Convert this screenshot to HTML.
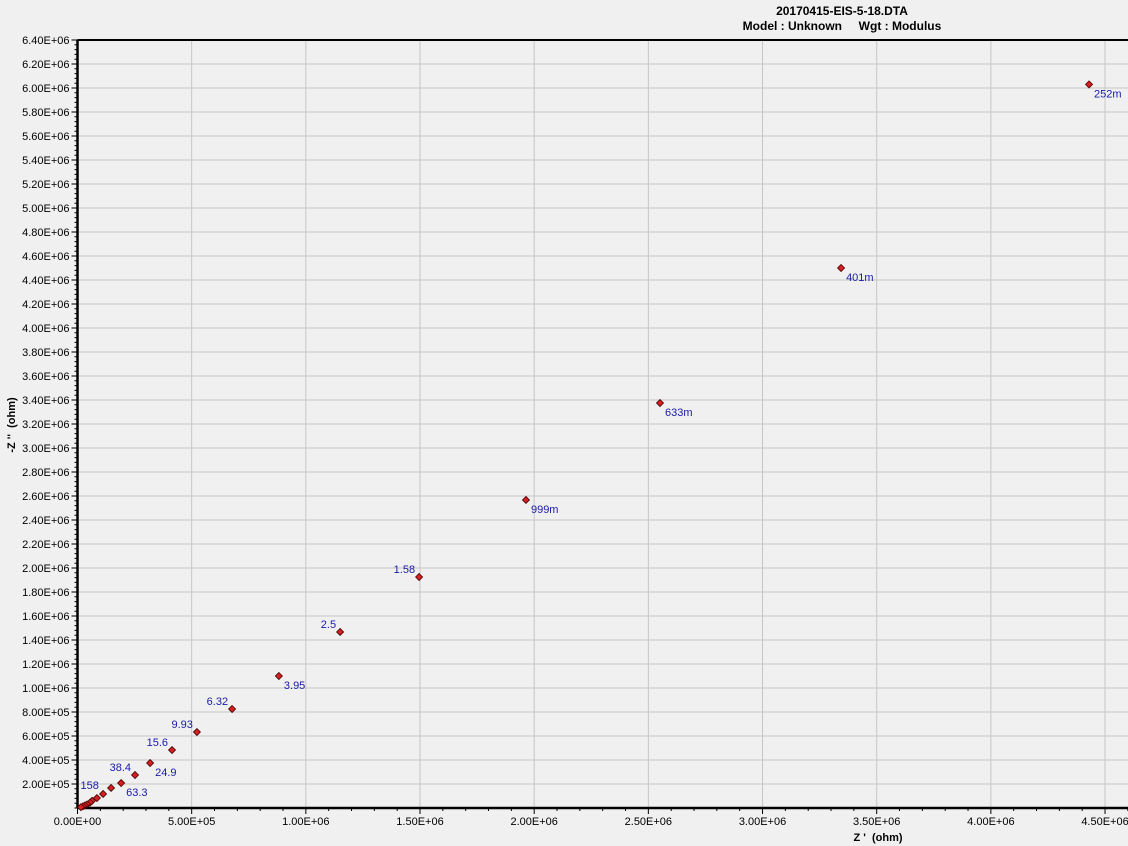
<!DOCTYPE html>
<html><head><meta charset="utf-8"><style>
html,body{margin:0;padding:0;background:#f0f0f0;}
svg{display:block;font-family:"Liberation Sans",Arial,sans-serif;}
</style></head><body>
<svg id="chart" width="1128" height="846" viewBox="0 0 1128 846">
<rect width="1128" height="846" fill="#f0f0f0"/>
<text x="842" y="15" text-anchor="middle" font-size="12" font-weight="bold">20170415-EIS-5-18.DTA</text>
<text x="842" y="30" text-anchor="middle" font-size="12" font-weight="bold">Model : Unknown &#160;&#160;&#160; Wgt : Modulus</text>
<text x="878" y="841" text-anchor="middle" font-size="11" font-weight="bold">Z ' &#160;(ohm)</text>
<text transform="translate(15,425) rotate(-90)" text-anchor="middle" font-size="11" font-weight="bold">-Z '' &#160;(ohm)</text>
<g id="grid"></g><g id="axes"></g><g id="marks"></g>
</svg>
<script>
const xTicks=[0,5e5,1e6,1.5e6,2e6,2.5e6,3e6,3.5e6,4e6,4.5e6];
const yTicks=[2e5,4e5,6e5,8e5,1e6,1.2e6,1.4e6,1.6e6,1.8e6,2e6,2.2e6,2.4e6,2.6e6,2.8e6,3e6,3.2e6,3.4e6,3.6e6,3.8e6,4e6,4.2e6,4.4e6,4.6e6,4.8e6,5e6,5.2e6,5.4e6,5.6e6,5.8e6,6e6,6.2e6,6.4e6];
const zReal=[4.43e6,3.344e6,2.551e6,1.964e6,1.496e6,1.15e6,8.82e5,6.77e5,5.23e5,4.14e5,3.18e5,2.52e5,1.91e5,1.47e5,1.12e5,8.5e4,6.4e4,5.5e4,4.2e4,3.3e4,2.4e4,1.5e4];
const zImag=[6.03e6,4.5e6,3.375e6,2.567e6,1.925e6,1.467e6,1.1e6,8.25e5,6.33e5,4.83e5,3.75e5,2.75e5,2.08e5,1.67e5,1.17e5,8.3e4,6e4,4.5e4,3e4,2.2e4,1.4e4,7e3];
const freqLabels=["252m","401m","633m","999m","1.58","2.5","3.95","6.32","9.93","15.6","24.9","38.4","63.3","","","158","","","","","",""];
const labelSide=["r","r","r","r","l","l","r","l","l","l","r","l","r","","","u","","","","","",""];
const L=77.5,T=40,B=808,R=1128;
const X=v=>L+v*114.17/5e5;
const Y=v=>B-v*768/6.4e6;
const NS='http://www.w3.org/2000/svg';
function mk(tag,attrs,parent){const e=document.createElementNS(NS,tag);for(const k in attrs)e.setAttribute(k,attrs[k]);parent.appendChild(e);return e;}
const fmt=v=>{if(v===0)return"0.00E+00";const ex=Math.floor(Math.log10(v)+1e-9);return (v/Math.pow(10,ex)).toFixed(2)+"E+"+String(ex).padStart(2,"0");};
const grid=document.getElementById('grid'),axes=document.getElementById('axes'),marks=document.getElementById('marks');
xTicks.forEach(t=>{const x=X(t);
 if(t>0){const g=mk('line',{x1:x,x2:x,y1:T,y2:B,stroke:'#c6c6c6','stroke-width':1},grid);
 
 }
 const tk=mk('line',{x1:x,x2:x,y1:B,y2:B+6,stroke:'#000'},axes);
 
 
 const lb=mk('text',{x:x,y:B+17,'text-anchor':'middle','font-size':11,fill:'#000'},axes);lb.textContent=fmt(t);
 
 
 for(let k=1;k<5;k++){const mx=X(t+k*1e5);if(mx<R){const m=mk('line',{x1:mx,x2:mx,y1:B,y2:B+3,stroke:'#000'},axes);
 
 }}
});
yTicks.forEach(t=>{const y=Y(t);
 if(t<6.4e6){const g=mk('line',{x1:L,x2:R,y1:y,y2:y,stroke:'#c6c6c6','stroke-width':1},grid);
 
 }
 const tk=mk('line',{x1:L-6,x2:L,y1:y,y2:y,stroke:'#000'},axes);
 
 
 const lb=mk('text',{x:L-8,y:y+4,'text-anchor':'end','font-size':11,fill:'#000'},axes);lb.textContent=fmt(t);
 
 
});
for(let v=0;v<6.4e6;v+=4e4){const m=mk('line',{x1:L-3,x2:L,y1:Y(v),y2:Y(v),stroke:'#000'},axes);
 
 }
const xa=mk('line',{x1:L,x2:R,y1:B,y2:B,stroke:'#000','stroke-width':2.5},axes);


const ya=mk('line',{x1:L,x2:L,y1:T,y2:B,stroke:'#000','stroke-width':2.5},axes);


const ta=mk('line',{x1:L,x2:R,y1:T,y2:T,stroke:'#000','stroke-width':2},axes);


zReal.forEach((v,i)=>{const x=X(v),y=Y(zImag[i]);
 const d=mk('path',{d:`M${x} ${y-3.5}L${x+3.5} ${y}L${x} ${y+3.5}L${x-3.5} ${y}Z`,fill:'#d42020',stroke:'#400','stroke-width':0.8},marks);
 
 
 if(freqLabels[i]){const s=labelSide[i];let a;
  if(s==='r')a={x:x+5,y:y+13,'text-anchor':'start'};
  else if(s==='u')a={x:x+2,y:y-9,'text-anchor':'end'};
  else a={x:x-4,y:y-4,'text-anchor':'end'};
  a['font-size']=11;a.fill='#1a1aa8';
  const t=mk('text',a,marks);
  t.textContent=freqLabels[i];
  
  }
});
</script>
</body></html>
